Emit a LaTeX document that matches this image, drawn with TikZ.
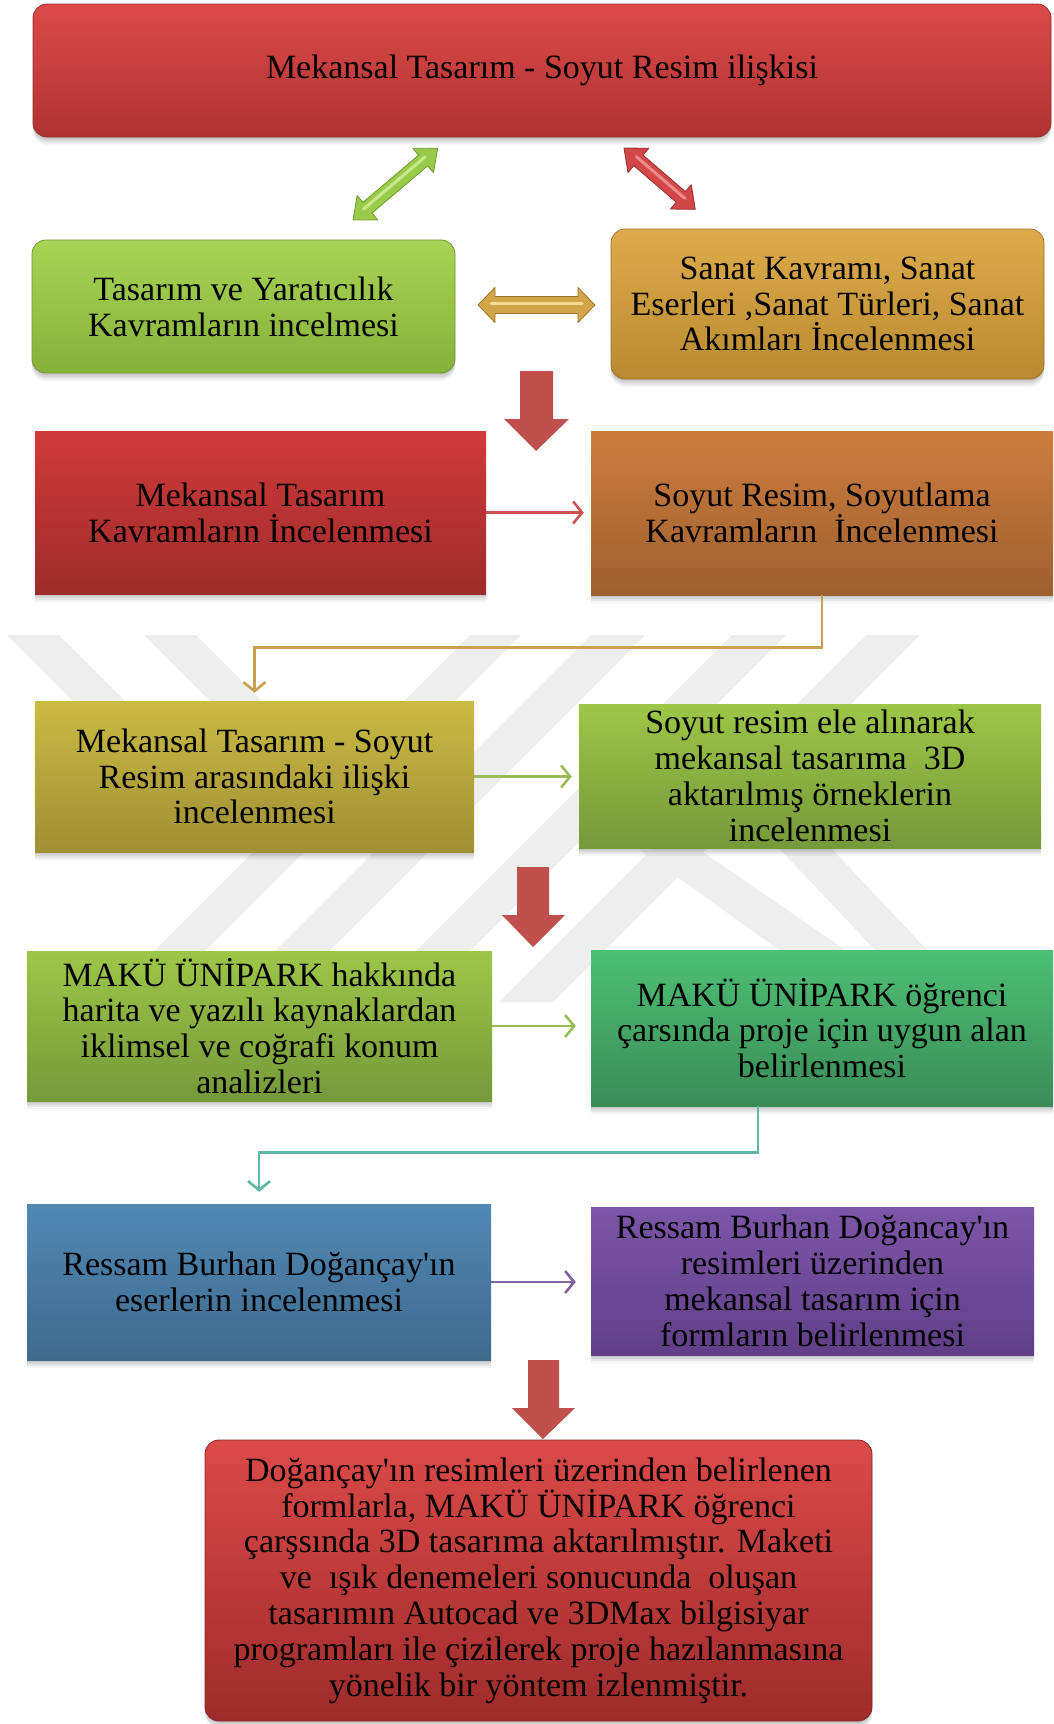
\documentclass[tikz,border=0pt]{standalone}
\usepackage{fontspec}
\setmainfont{Liberation Serif}
\newfontfamily\plainserif{Liberation Serif}
\usetikzlibrary{shadows,calc,arrows.meta}

\definecolor{topT}{HTML}{DB4A48}\definecolor{topB}{HTML}{B03333}
\definecolor{g1T}{HTML}{A8D455}\definecolor{g1B}{HTML}{86B13A}
\definecolor{goT}{HTML}{DDAB4B}\definecolor{goB}{HTML}{B98A30}
\definecolor{rrT}{HTML}{D03B3A}\definecolor{rrB}{HTML}{9E2B2B}
\definecolor{orT}{HTML}{CC7D3E}\definecolor{orB}{HTML}{9E5F2F}
\definecolor{olT}{HTML}{C9BB43}\definecolor{olB}{HTML}{A08F35}
\definecolor{g2T}{HTML}{9DC648}\definecolor{g2B}{HTML}{76993A}
\definecolor{emT}{HTML}{4DBF75}\definecolor{emB}{HTML}{3A8C57}
\definecolor{blT}{HTML}{5189B5}\definecolor{blB}{HTML}{3E6A8D}
\definecolor{puT}{HTML}{7C56A8}\definecolor{puB}{HTML}{603F88}
\definecolor{blockred}{HTML}{C0504D}
\definecolor{lnred}{HTML}{CD5252}
\definecolor{lngold}{HTML}{C8A04E}
\definecolor{lngreen}{HTML}{9BBB59}
\definecolor{lnteal}{HTML}{5DB8A8}
\definecolor{lnpurple}{HTML}{8064A2}
\definecolor{wm}{HTML}{EEEEEE}
\definecolor{daGf}{HTML}{9ACB48}\definecolor{daGh}{HTML}{C8E88E}\definecolor{daGe}{HTML}{6E9A2E}
\definecolor{daRf}{HTML}{D24848}\definecolor{daRh}{HTML}{EE8A8A}\definecolor{daRe}{HTML}{9A2E2E}
\definecolor{daOf}{HTML}{D2A648}\definecolor{daOh}{HTML}{F5DA92}\definecolor{daOe}{HTML}{9A7426}

\newcommand\apo{{\plainserif'}}

\newcommand\blockdbl[9]{% start, angle, length, shaft half, head half, head len, fill, highlight, edge
  \begin{scope}[shift={#1},rotate=#2]
    \path[fill=#7,draw=#9,line width=0.8pt,line join=round] (0,0) -- (#6,#5) -- (#6,#4) -- ({#3-#6},#4) -- ({#3-#6},#5) -- (#3,0) -- ({#3-#6},-#5) -- ({#3-#6},-#4) -- (#6,-#4) -- (#6,-#5) -- cycle;
    \draw[#8,line width=3pt,line cap=round] ({#6-4},1.5) -- ({#3-#6+4},1.5);
  \end{scope}}

\tikzset{
  base/.style={inner sep=0pt, align=center, font=\fontsize{34}{35.8}\selectfont, text=black},
  shad/.style={
    general shadow={fill=black, opacity=0.07, shadow yshift=-2pt},
    general shadow={fill=black, opacity=0.07, shadow yshift=-4pt},
    general shadow={fill=black, opacity=0.06, shadow yshift=-6pt},
    general shadow={fill=black, opacity=0.04, shadow yshift=-8pt}},
  rbox/.style={base, shad, rounded corners=14pt},
  sbox/.style={base, shad},
  conn/.style={line width=2.6pt, -{Straight Barb[length=9pt,width=22pt]}},
}

\begin{document}
\begin{tikzpicture}[x=1pt,y=1pt]
\useasboundingbox (0,0) rectangle (1053,-1724);
\fill[white] (0,0) rectangle (1053,-1724);

% faint watermark
\begin{scope}
\clip (0,-635) rectangle (1053,-1002);
% left "\" bands (ending under the olive box)
\fill[wm] (7,-635) -- (59,-635) -- (274,-850) -- (222,-850) -- cycle;
\fill[wm] (144,-635) -- (196,-635) -- (411,-850) -- (359,-850) -- cycle;
% "/" bands
\fill[wm] (470,-635) -- (521,-635) -- (154,-1002) -- (103,-1002) -- cycle;
\fill[wm] (591,-635) -- (645,-635) -- (278,-1002) -- (224,-1002) -- cycle;
\fill[wm] (732,-635) -- (786,-635) -- (419,-1002) -- (365,-1002) -- cycle;
\fill[wm] (866,-635) -- (920,-635) -- (553,-1002) -- (499,-1002) -- cycle;
% right leg of the peak and a further "\" band
\fill[wm] (640,-850) -- (700,-850) -- (921,-1002) -- (851,-1002) -- cycle;
\fill[wm] (682,-745) -- (734,-745) -- (976,-1002) -- (924,-1002) -- cycle;
\end{scope}

% boxes
\node[rbox, top color=topT, bottom color=topB, draw=topB!85!black, line width=0.8pt, minimum width=1018pt, minimum height=133pt] (top) at (542,-70.5) {Mekansal Tasarım - Soyut Resim ilişkisi};
\node[rbox, top color=g1T, bottom color=g1B, draw=g1B!85!black, line width=0.8pt, minimum width=423pt, minimum height=133pt] (tasarim) at (243.5,-306.5) {Tasarım ve Yaratıcılık\\Kavramların incelmesi};
\node[rbox, top color=goT, bottom color=goB, draw=goB!85!black, line width=0.8pt, minimum width=433pt, minimum height=150pt] (sanat) at (827.5,-304) {Sanat Kavramı, Sanat\\Eserleri ,Sanat Türleri, Sanat\\Akımları İncelenmesi};
\node[sbox, top color=rrT, bottom color=rrB, minimum width=451pt, minimum height=163pt] (mekansal) at (260.5,-512.5) {Mekansal Tasarım\\Kavramların İncelenmesi};
\node[sbox, top color=orT, bottom color=orB, minimum width=462pt, minimum height=164pt] (soyut) at (822,-513) {Soyut Resim, Soyutlama\\Kavramların\ \ İncelenmesi};
\node[sbox, top color=olT, bottom color=olB, minimum width=439pt, minimum height=151pt] (iliski) at (254.5,-776.5) {Mekansal Tasarım - Soyut\\Resim arasındaki ilişki\\incelenmesi};
\node[sbox, top color=g2T, bottom color=g2B, minimum width=462pt, minimum height=144pt] (ornek) at (810,-776) {Soyut resim ele alınarak\\mekansal tasarıma\ \ 3D\\aktarılmış örneklerin\\incelenmesi};
\node[sbox, top color=g2T, bottom color=g2B, minimum width=465pt, minimum height=150pt] (analiz) at (259.5,-1026) {MAKÜ ÜNİPARK hakkında\\harita ve yazılı kaynaklardan\\iklimsel ve coğrafi konum\\analizleri};
\node[sbox, top color=emT, bottom color=emB, minimum width=462pt, minimum height=156pt] (alan) at (822,-1028) {MAKÜ ÜNİPARK öğrenci\\çarsında proje için uygun alan\\belirlenmesi};
\node[sbox, top color=blT, bottom color=blB, minimum width=464pt, minimum height=156pt] (eser) at (259,-1282) {Ressam Burhan Doğançay\apo ın\\eserlerin incelenmesi};
\node[sbox, top color=puT, bottom color=puB, minimum width=443pt, minimum height=148pt] (form) at (812.5,-1281) {Ressam Burhan Doğancay\apo ın\\resimleri üzerinden\\mekansal tasarım için\\formların belirlenmesi};
\node[rbox, top color=topT, bottom color=rrB, draw=rrB!85!black, line width=0.8pt, minimum width=667pt, minimum height=281pt] (sonuc) at (538.5,-1580.5) {Doğançay\apo ın resimleri üzerinden belirlenen\\formlarla, MAKÜ ÜNİPARK öğrenci\\çarşsında 3D tasarıma aktarılmıştır. Maketi\\ve\ \ ışık denemeleri sonucunda\ \ oluşan\\tasarımın Autocad ve 3DMax bilgisiyar\\programları ile çizilerek proje hazılanmasına\\yönelik bir yöntem izlenmiştir.};

% 3D double arrows
\blockdbl{(353,-220)}{40.3}{111}{7}{16}{19}{daGf}{daGh}{daGe}
\blockdbl{(624,-148)}{-40.7}{94}{7}{16}{19}{daRf}{daRh}{daRe}
\blockdbl{(478,-305)}{0}{117}{8.5}{17.5}{17}{daOf}{daOh}{daOe}

% red block arrows
\fill[blockred] (520,-371) -- (553,-371) -- (553,-419) -- (569,-419) -- (536,-451) -- (504,-419) -- (520,-419) -- cycle;
\fill[blockred] (517,-867) -- (549,-867) -- (549,-915) -- (565,-915) -- (533,-947) -- (502,-915) -- (517,-915) -- cycle;
\fill[blockred] (528,-1360) -- (559,-1360) -- (559,-1408) -- (575,-1408) -- (543,-1439) -- (512,-1408) -- (528,-1408) -- cycle;

% connectors
\draw[conn, lnred, shorten >=7pt] (mekansal.east) -- (mekansal.east -| soyut.west);
\draw[conn, lngold, shorten >=8pt] (soyut.south) -- ++(0,-52) -| (iliski.north);
\draw[conn, lngreen, shorten >=7pt] (iliski.east) -- (iliski.east -| ornek.west);
\draw[conn, lngreen, shorten >=15pt] (analiz.east) -- (analiz.east -| alan.west);
\coordinate (tealstart) at ([xshift=-64pt]alan.south);
\draw[conn, lnteal, shorten >=12pt] (tealstart) -- ++(0,-46) -| (eser.north);
\draw[conn, lnpurple, shorten >=15pt] (eser.east) -- (eser.east -| form.west);
\end{tikzpicture}
\end{document}
